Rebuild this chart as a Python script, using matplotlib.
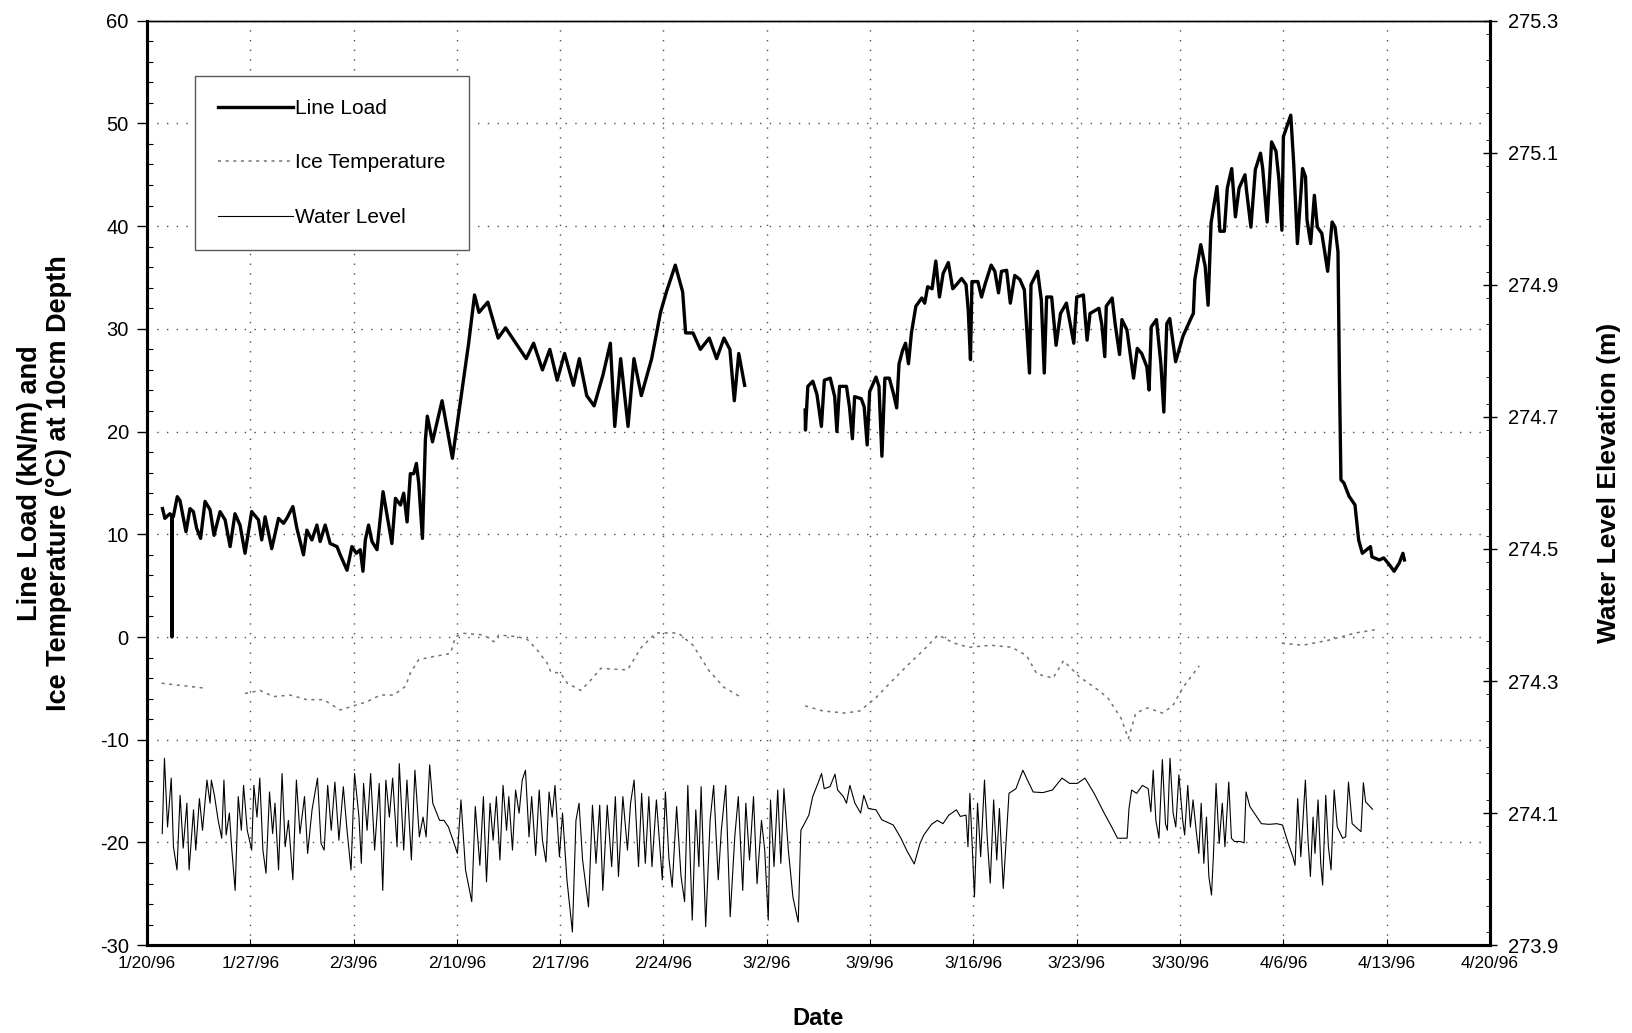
import numpy as np
import pandas as pd
import matplotlib
matplotlib.use("Agg")
import matplotlib.pyplot as plt
import matplotlib.dates as mdates
from matplotlib.ticker import MultipleLocator, FixedLocator, FuncFormatter

nan = np.nan
start = pd.Timestamp("1996-01-20")

# line load (kN/m), days after 1/20/96
load_day = [1.06, 1.22, 1.56, 1.68, 1.70, 1.72, 1.79, 2.06, 2.24, 2.65, 2.92, 3.15, 3.37, 3.64, 3.94,
            4.28, 4.55, 4.96, 5.3, 5.64, 5.97, 6.31, 6.65, 7.1, 7.56, 7.78, 8.01, 8.46, 8.92, 9.26,
            9.48, 9.89, 10.16, 10.61, 10.84, 11.18, 11.52, 11.74, 12.08, 12.42, 12.88, 13.1, 13.56,
            13.89, 14.19, 14.46, 14.64, 14.8, 15.02, 15.25, 15.59, 16.0, 16.27, 16.6, 16.84, 17.18,
            17.4, 17.63, 17.85, 18.08, 18.26, 18.42, 18.67, 18.87, 19.0, 19.35, 20.0, 20.7, 21.1,
            21.8, 22.2, 22.5, 23.1, 23.4, 23.8, 24.3, 25.0, 25.7, 26.2, 26.8, 27.3, 27.8, 28.3,
            28.9, 29.3, 29.8, 30.3, 30.9, 31.4, 31.7, 32.1, 32.6, 33.0, 33.5, 34.2, 34.8, 35.2,
            35.8, 36.3, 36.5, 37.0, 37.5, 38.1, 38.6, 39.1, 39.5, 39.8, 40.1, 40.5,
            42.5,
            44.6, 44.62, 44.78, 45.12, 45.4, 45.7, 45.9, 46.3, 46.6, 46.75, 46.93, 47.4, 47.6,
            47.8, 47.95, 48.4, 48.6, 48.8, 48.97, 49.4, 49.6, 49.8, 50.0, 50.3, 50.6, 50.8, 50.96,
            51.2, 51.4, 51.6, 51.8, 52.1, 52.5, 52.7, 52.9, 53.2, 53.45, 53.7, 53.95, 54.3, 54.6,
            54.85, 55.2, 55.5, 55.65, 55.8, 55.9, 56.3, 56.55, 56.8, 57.2, 57.45, 57.7, 57.9,
            58.25, 58.5, 58.8, 59.15, 59.45, 59.8, 59.9, 60.35, 60.6, 60.8, 60.96, 61.3, 61.6,
            61.9, 62.3, 62.8, 63.0, 63.45, 63.7, 63.9, 64.5, 64.7, 64.9, 65.0, 65.4, 65.6, 65.9,
            66.06, 66.4, 66.85, 67.1, 67.4, 67.75, 67.9, 68.05, 68.4, 68.7, 68.9, 69.1, 69.3,
            69.7, 70.2, 70.7, 70.9, 71.0, 71.4, 71.7, 71.9, 72.1, 72.5, 72.6, 72.7, 73.0, 73.2,
            73.5, 73.75, 74.0, 74.4, 74.5, 74.8, 75.1, 75.45, 75.6, 75.9, 76.2, 76.5, 76.7, 76.9,
            77.0, 77.5, 77.7, 77.95, 78.3, 78.5, 78.6, 78.85, 79.1, 79.3, 79.6, 79.8, 80.0, 80.3,
            80.5, 80.7, 80.8, 80.9, 81.1, 81.45, 81.85, 82.1, 82.35, 82.9, 83.0, 83.5, 83.8, 84.2,
            84.5, 84.85, 85.1, 85.2]
load_val = [12.5, 11.55, 12.0, 11.8, 0.0, 11.8, 11.7, 13.66, 13.3, 10.25, 12.5, 12.2, 10.6, 9.6, 13.2,
            12.4, 9.9, 12.2, 11.4, 8.8, 12.0, 10.9, 8.15, 12.2, 11.4, 9.45, 11.7, 8.6, 11.55, 11.07,
            11.55, 12.7, 10.6, 8.0, 10.4, 9.45, 10.9, 9.3, 10.9, 9.1, 8.8, 8.0, 6.5,
            8.8, 8.15, 8.5, 6.4, 9.45, 10.9, 9.3, 8.5, 14.15, 11.9, 9.1, 13.5, 12.85,
            14.0, 11.2, 15.9, 15.9, 16.9, 14.96, 9.6, 19.18, 21.5, 19.0, 23.0, 17.4, 21.5,
            28.6, 33.3, 31.6, 32.6, 31.1, 29.1, 30.1, 28.6, 27.1, 28.6, 26.0, 28.0, 25.0, 27.6,
            24.5, 27.1, 23.5, 22.5, 25.5, 28.6, 20.5, 27.1, 20.5, 27.1, 23.5, 27.1, 31.6, 33.6,
            36.2, 33.6, 29.6, 29.6, 28.0, 29.1, 27.1, 29.1, 28.0, 23.0, 27.6, 24.5,
            nan,
            22.1, 20.15, 24.4, 24.9, 23.6, 20.5, 25.0, 25.2, 23.4, 20.0, 24.4, 24.4, 22.4,
            19.3, 23.4, 23.2, 22.4, 18.7, 23.9, 25.3, 24.4, 17.6, 25.2, 25.2, 23.6, 22.3, 26.6,
            27.9, 28.6, 26.6, 29.6, 32.2, 33.0, 32.5, 34.1, 33.9, 36.6, 33.1, 35.4, 36.45, 33.9,
            34.3, 34.9, 34.3, 31.8, 27.0, 34.6, 34.6, 33.1, 34.4, 36.2, 35.6, 33.5, 35.6,
            35.7, 32.5, 35.2, 34.8, 33.8, 25.7, 34.3, 35.6, 32.8, 25.7, 33.1, 33.1, 28.4,
            31.5, 32.5, 28.6, 33.1, 33.3, 28.9, 31.5, 32.0, 30.4, 27.3, 32.2, 33.0, 30.5, 27.5,
            30.9, 29.9, 25.2, 28.1, 27.6, 26.3, 24.05, 30.2, 30.9, 26.6, 21.9, 30.5, 31.0,
            26.8, 29.3, 30.9, 31.5, 34.8, 38.2, 36.1, 32.3, 40.3, 43.85, 41.9, 39.5, 39.5, 43.7,
            45.6, 40.9, 43.7, 45.0, 43.5, 39.9, 45.5, 47.1, 45.6, 40.4, 48.2, 47.3, 44.5, 39.6,
            48.7, 50.8, 46.1, 38.3, 45.6, 44.8, 40.6, 38.3, 43.0, 39.9, 39.3, 37.5, 35.6, 40.4,
            39.9, 37.5, 25.0, 15.3, 15.0, 13.7, 12.86, 9.45, 8.15, 8.8, 7.8, 7.5, 7.7, 7.0,
            6.4, 7.2, 8.15, 7.5]

# ice temperature at 10 cm depth (deg C)
ice_day = [1.0, 4.05, 5.0, 6.65, 7.67, 8.58, 9.7, 10.84, 11.97, 13.1, 13.78, 14.91, 15.82, 16.72,
           17.52, 17.85, 18.42, 19.44, 20.57, 20.91, 21.48, 22.83, 23.51, 23.85, 25.1, 25.77,
           26.45, 27.13, 27.36, 28.04, 28.49, 29.4, 30.07, 30.75, 32.56, 33.5, 34.5, 36.0, 37.0,
           38.1, 39.1, 40.3, 42.5, 44.6, 45.8, 47.3, 48.3, 49.4, 50.4, 51.5, 52.6, 53.6, 54.7,
           55.7, 57.2, 58.6, 59.6, 60.3, 61.4, 62.1, 63.2, 64.2, 65.1, 66.0, 66.5, 67.0, 67.8,
           68.8, 69.5, 70.2, 71.3, 74.0, 76.9, 78.3, 80.1, 81.9, 83.2]
ice_val = [-4.5, -5.0, nan, -5.5, -5.2, -5.8, -5.65, -6.1, -6.1, -7.1, -6.8, -6.3, -5.65, -5.65,
           -4.8, -3.5, -2.2, -1.9, -1.6, 0.03, 0.36, 0.2, -0.46, 0.2, 0.03, -0.23,
           -1.27, -2.57, -3.38, -3.54, -4.5, -5.2, -4.2, -3.05, -3.2, -1.0, 0.4, 0.4, -0.8,
           -3.3, -4.9, -5.9, nan, -6.7, -7.2, -7.4, -7.2, -5.9, -4.4, -2.8, -1.3, 0.2, -0.6,
           -1.0, -0.8, -1.0, -1.8, -3.6, -4.0, -2.3, -3.9, -4.9, -5.9, -7.9, -9.9, -7.4, -6.9,
           -7.4, -6.7, -4.9, -2.8, nan, -0.6, -0.8, -0.3, 0.4, 0.7]

# water level elevation (m)
wl_day = [1.04, 1.19, 1.40, 1.65, 1.80, 2.04, 2.25, 2.46, 2.71, 2.86, 3.16, 3.31, 3.56, 3.77, 4.07,
          4.28, 4.37, 4.59, 4.83, 5.07, 5.22, 5.37, 5.59, 5.74, 5.98, 6.19, 6.40, 6.55, 6.80,
          7.10, 7.25, 7.46, 7.65, 7.86, 8.07, 8.31, 8.52, 8.68, 8.92, 9.16, 9.37, 9.59, 9.89,
          10.13, 10.37, 10.68, 10.89, 11.19, 11.56, 11.80, 12.01, 12.25, 12.49, 12.74, 13.01,
          13.31, 13.56, 13.83, 14.07, 14.37, 14.53, 14.68, 14.92, 15.16, 15.43, 15.74, 15.98,
          16.19, 16.43, 16.65, 16.95, 17.10, 17.40, 17.62, 17.92, 18.16, 18.46, 18.71, 18.92,
          19.16, 19.37, 19.83, 20.13, 20.43, 20.74, 21.04, 21.28, 21.59, 22.01, 22.25, 22.56,
          22.80, 23.01, 23.25, 23.46, 23.68, 23.92, 24.13, 24.37, 24.52, 24.77, 24.98, 25.22,
          25.43, 25.65, 25.89, 26.07, 26.34, 26.58, 26.80, 27.04, 27.25, 27.46, 27.65, 27.95,
          28.16, 28.46, 28.83, 29.07, 29.28, 29.52, 29.92, 30.19, 30.43, 30.68, 30.89, 31.19,
          31.49, 31.74, 31.95, 32.25, 32.56, 32.77, 33.01, 33.31, 33.52, 33.77, 34.01, 34.22,
          34.52, 34.92, 35.13, 35.37, 35.59, 35.89, 36.19, 36.43, 36.65, 36.95, 37.19, 37.40,
          37.55, 37.86, 38.16, 38.40, 38.71, 38.92, 39.22, 39.52, 39.83, 40.07, 40.37, 40.58,
          40.83, 41.10, 41.34, 41.64, 41.86, 42.10, 42.25, 42.49, 42.74, 42.95, 43.16, 43.46,
          43.77, 44.13, 44.31, 44.43, 44.85, 45.11, 45.50, 45.71, 45.89, 46.28, 46.62, 46.80,
          47.19, 47.40, 47.63, 47.97, 48.36, 48.57, 48.88, 49.40, 49.79, 50.57, 51.09, 51.47,
          51.99, 52.38, 52.64, 53.16, 53.55, 53.94, 54.33, 54.85, 55.11, 55.50, 55.63, 55.76,
          56.07, 56.28, 56.49, 56.75, 56.93, 57.14, 57.37, 57.58, 57.76, 58.02, 58.41, 58.88,
          59.35, 59.66, 60.05, 60.70, 61.35, 62.00, 62.52, 63.04, 63.56, 64.20, 64.86, 65.37,
          65.76, 66.41, 66.54, 66.72, 67.06, 67.45, 67.84, 68.02, 68.18, 68.36, 68.57, 68.80,
          69.01, 69.14, 69.32, 69.53, 69.71, 69.92, 70.18, 70.31, 70.52, 70.70, 70.88, 71.09,
          71.27, 71.43, 71.61, 71.79, 71.95, 72.13, 72.26, 72.44, 72.65, 72.86, 73.04, 73.30,
          73.48, 73.69, 74.08, 74.34, 74.47, 74.73, 75.12, 75.51, 76.03, 76.55, 76.94, 77.33,
          77.64, 77.79, 77.97, 78.18, 78.36, 78.49, 78.67, 78.83, 79.01, 79.14, 79.35, 79.53,
          79.66, 79.87, 80.05, 80.23, 80.44, 80.65, 81.01, 81.22, 81.41, 81.66, 82.00, 82.26,
          82.42, 82.57, 83.04]
wl_val = [274.069, 274.183, 274.079, 274.153, 274.049, 274.014, 274.127, 274.047, 274.115, 274.014,
          274.105, 274.044, 274.122, 274.074, 274.150, 274.115, 274.150, 274.125, 274.089, 274.062,
          274.150, 274.067, 274.100, 274.049, 273.983, 274.125, 274.074, 274.142, 274.074,
          274.044, 274.142, 274.094, 274.153, 274.044, 274.009, 274.132, 274.069, 274.115,
          274.014, 274.160, 274.049, 274.089, 273.999, 274.150, 274.069, 274.125, 274.039,
          274.105, 274.153, 274.054, 274.044, 274.142, 274.074, 274.147, 274.059, 274.140,
          274.074, 274.014, 274.160, 274.094, 274.024, 274.145, 274.074, 274.160, 274.044,
          274.145, 273.983, 274.150, 274.094, 274.153, 274.049, 274.175, 274.044, 274.150,
          274.029, 274.165, 274.064, 274.094, 274.064, 274.173, 274.115, 274.089, 274.089,
          274.079, 274.059, 274.039, 274.120, 274.014, 273.966, 274.110, 274.021, 274.125,
          273.996, 274.115, 274.059, 274.125, 274.029, 274.142, 274.074, 274.125, 274.044,
          274.135, 274.100, 274.150, 274.165, 274.064, 274.125, 274.036, 274.135, 274.059,
          274.026, 274.132, 274.094, 274.142, 274.034, 274.100, 273.999, 273.920, 274.089,
          274.115, 274.029, 273.958, 274.112, 274.024, 274.112, 273.983, 274.112, 274.019,
          274.125, 274.004, 274.125, 274.044, 274.115, 274.150, 274.019, 274.130, 274.024,
          274.125, 274.019, 274.120, 273.999, 274.132, 274.031, 273.988, 274.110, 274.004,
          273.966, 274.142, 273.938, 274.105, 274.019, 274.140, 273.928, 274.089, 274.142,
          273.999, 274.074, 274.142, 273.943, 274.064, 274.125, 273.983, 274.115, 274.029,
          274.125, 273.993, 274.089, 274.044, 273.938, 274.120, 274.019, 274.135, 274.024,
          274.137, 274.044, 273.973, 273.935, 274.074, 274.079, 274.097, 274.125, 274.147,
          274.160, 274.137, 274.140, 274.159, 274.135, 274.125, 274.115, 274.142, 274.115,
          274.100, 274.127, 274.107, 274.105, 274.090, 274.082, 274.062, 274.044, 274.023,
          274.054, 274.067, 274.083, 274.089, 274.084, 274.097, 274.105, 274.095, 274.097,
          274.049, 274.130, 273.973, 274.115, 274.034, 274.150, 274.064, 273.994, 274.120,
          274.029, 274.107, 273.986, 274.130, 274.137, 274.165, 274.150, 274.132, 274.131,
          274.135, 274.153, 274.145, 274.145, 274.153, 274.129, 274.100, 274.079, 274.062,
          274.062, 274.107, 274.135, 274.130, 274.142, 274.137, 274.102, 274.165, 274.089,
          274.062, 274.181, 274.084, 274.074, 274.183, 274.100, 274.079, 274.158, 274.089,
          274.067, 274.142, 274.079, 274.120, 274.074, 274.039, 274.115, 274.024, 274.094,
          274.004, 273.976, 274.036, 274.145, 274.054, 274.115, 274.049, 274.147, 274.062,
          274.057, 274.057, 274.055, 274.132, 274.110, 274.097, 274.084, 274.083, 274.084,
          274.082, 274.054, 274.034, 274.021, 274.122, 274.034, 274.102, 274.150, 274.059,
          274.004, 274.094, 274.039, 274.120, 274.024, 273.991, 274.127, 274.049, 274.014,
          274.135, 274.079, 274.062, 274.064, 274.147, 274.084, 274.077, 274.072, 274.146,
          274.117, 274.106]


def to_dates(days):
    return start + pd.to_timedelta(np.array(days), unit="D")


plt.rcParams["font.family"] = ["Liberation Sans", "DejaVu Sans"]
plt.rcParams["axes.unicode_minus"] = False

fig = plt.figure(figsize=(16.32, 10.33), dpi=100)
ax = fig.add_axes([0.090, 0.085, 0.823, 0.895])
ax2 = ax.twinx()

l1, = ax.plot(to_dates(load_day), load_val, color="black", lw=2.4, label="Line Load")
l2, = ax.plot(to_dates(ice_day), ice_val, color="0.45", lw=1.1, ls=(0, (2, 3)), label="Ice Temperature")
l3, = ax2.plot(to_dates(wl_day), wl_val, color="black", lw=0.8, label="Water Level")

ax.set_xlim(start, start + pd.Timedelta(days=91))
ax.set_ylim(-30, 60)
ax2.set_ylim(273.9, 275.3)

ticks = [start + pd.Timedelta(days=7 * i) for i in range(14)]
ax.xaxis.set_major_locator(FixedLocator(mdates.date2num(ticks)))
ax.xaxis.set_major_formatter(FuncFormatter(
    lambda v, p: (lambda d: f"{d.month}/{d.day}/{d.year % 100:02d}")(mdates.num2date(v))))

ax.yaxis.set_major_locator(MultipleLocator(10))
ax.yaxis.set_minor_locator(MultipleLocator(2))
ax2.yaxis.set_major_locator(FixedLocator(np.arange(273.9, 275.31, 0.2)))
ax2.yaxis.set_minor_locator(MultipleLocator(0.04))
ax2.yaxis.set_major_formatter(FuncFormatter(lambda v, p: f"{v:.1f}"))

ax.grid(True, which="major", color="0.3", ls=(0, (1, 6)), lw=1.0)

ax.tick_params(axis="y", which="major", direction="out", length=7, width=1, labelsize=14.5, pad=6)
ax.tick_params(axis="y", which="minor", direction="in", length=4, width=0.8)
ax.tick_params(axis="x", which="major", direction="in", length=4, labelsize=12.5, pad=8)
ax2.tick_params(axis="y", which="major", direction="inout", length=10, width=1, labelsize=14.5, pad=8)
ax2.tick_params(axis="y", which="minor", direction="in", length=3, width=0.6)

for a in (ax, ax2):
    a.spines["left"].set_linewidth(2.2)
    a.spines["right"].set_linewidth(2.2)
    a.spines["bottom"].set_linewidth(2.2)
    a.spines["top"].set_linewidth(1.0)

ax.set_xlabel("Date", fontsize=17, fontweight="bold", labelpad=26)
ax.set_ylabel("Line Load (kN/m) and\nIce Temperature (°C) at 10cm Depth", fontsize=19.5,
              fontweight="bold", labelpad=20, linespacing=1.15)
ax2.set_ylabel("Water Level Elevation (m)", fontsize=19, fontweight="bold", labelpad=28)

leg = ax.legend(handles=[l1, l2, l3], loc="upper left", bbox_to_anchor=(0.036, 0.94),
                fontsize=15, frameon=True, fancybox=False, edgecolor="0.35", framealpha=1,
                handlelength=3.6, handletextpad=0.1, labelspacing=1.7, borderpad=1.1,
                borderaxespad=0)
leg.get_frame().set_linewidth(1.0)

fig.savefig("out.png", dpi=100)
